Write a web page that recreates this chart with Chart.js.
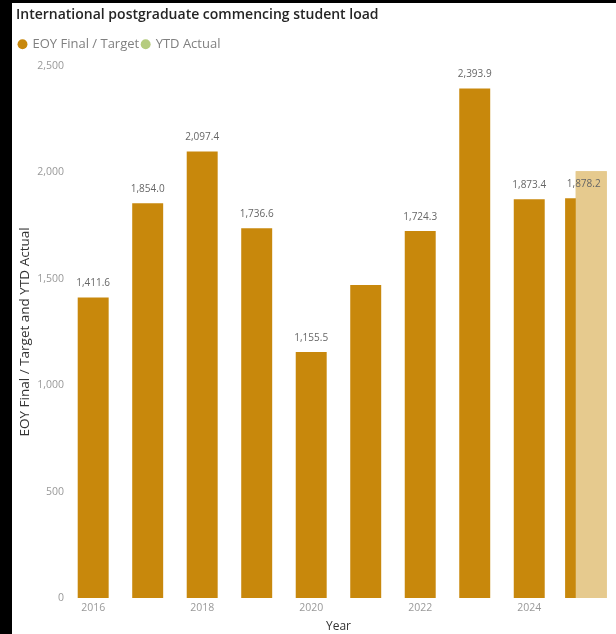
<!DOCTYPE html>
<html>
<head>
<meta charset="utf-8">
<script src="https://cdn.jsdelivr.net/npm/chart.js@4/dist/chart.umd.min.js"></script>
<style>
  html, body { margin: 0; padding: 0; background: #000; }
  body { width: 616px; height: 634px; position: relative; overflow: hidden; }
  .panel { position: absolute; left: 12px; top: 3px; width: 604px; height: 631px; background: #fff; }
</style>
</head>
<body>
<div class="panel"><canvas id="loadChart"></canvas></div>
<script>
// Chart data
const years = ['2016', '2017', '2018', '2019', '2020', '2021', '2022', '2023', '2024', '2025'];
const eoyFinalTarget = [1411.6, 1854.0, 2097.4, 1736.6, 1155.5, 1470, 1724.3, 2393.9, 1873.4, 1878.2];
const ytdActual = [null, null, null, null, null, null, null, null, null, 2005];
const unlabelledYears = ['2021'];
const yTicks = [0, 500, 1000, 1500, 2000, 2500];

const FONT = '"Open Sans", sans-serif';
const fmt = v => v.toLocaleString('en-US', { minimumFractionDigits: 1, maximumFractionDigits: 1 });

// extra space under the legend
const legendGap = {
  id: 'legendGap',
  beforeInit(chart) {
    const fit = chart.legend.fit;
    chart.legend.fit = function () {
      fit.call(this);
      this.height += 5;
    };
  }
};

// YTD bar sits over the EOY bar, then the value labels
const overlayPlugin = {
  id: 'overlay',
  afterDatasetsDraw(chart) {
    const ytdMeta = chart.getDatasetMeta(1);
    if (ytdMeta.visible) ytdMeta.controller.draw();

    const meta = chart.getDatasetMeta(0);
    if (!meta.visible) return;
    const xScale = chart.scales.x;
    const ctx = chart.ctx;
    ctx.save();
    ctx.font = '10px ' + FONT;
    ctx.fillStyle = '#666';
    ctx.textAlign = 'center';
    ctx.textBaseline = 'middle';
    meta.data.forEach((bar, i) => {
      if (unlabelledYears.includes(years[i])) return;
      ctx.fillText(fmt(eoyFinalTarget[i]), xScale.getPixelForValue(i), bar.y - 14);
    });
    ctx.restore();
  }
};

const ctx = document.getElementById('loadChart').getContext('2d');
new Chart(ctx, {
  type: 'bar',
  data: {
    labels: years,
    datasets: [
      {
        label: 'EOY Final / Target',
        data: eoyFinalTarget,
        backgroundColor: '#C8880C',
        skipNull: true,
        categoryPercentage: 0.8,
        barPercentage: 0.71,
      },
      {
        label: 'YTD Actual',
        data: ytdActual,
        backgroundColor: '#E6CA8E',
        skipNull: true,
        categoryPercentage: 0.55,
        barPercentage: 2.07,
      }
    ]
  },
  options: {
    responsive: true,
    maintainAspectRatio: false,
    animation: false,
    layout: { padding: { left: 4, right: 5, top: 2, bottom: 0 } },
    plugins: {
      title: {
        display: true,
        text: 'International postgraduate commencing student load',
        align: 'start',
        color: '#252525',
        font: { family: FONT, size: 14, weight: '600' },
        padding: { top: 2, bottom: 11 }
      },
      legend: {
        position: 'top',
        align: 'start',
        labels: {
          usePointStyle: true,
          pointStyle: 'circle',
          boxWidth: 7,
          boxHeight: 7,
          padding: 3,
          color: '#808080',
          font: { family: FONT, size: 13 },
          generateLabels: chart => {
            const items = Chart.defaults.plugins.legend.labels.generateLabels(chart);
            const dots = ['#C8880C', '#B5CC7E'];
            items.forEach((it, i) => { it.fillStyle = dots[i]; it.strokeStyle = dots[i]; });
            return items;
          }
        }
      },
      tooltip: {
        callbacks: { label: c => ` ${c.dataset.label}: ${fmt(c.raw)}` }
      }
    },
    scales: {
      x: {
        grid: { display: false, drawTicks: false },
        border: { display: false },
        ticks: {
          autoSkip: false,
          maxRotation: 0,
          color: '#999',
          font: { family: FONT, size: 10.5 },
          padding: 4,
          callback: (v, i) => (i % 2 === 0 ? years[i] : '')
        },
        title: {
          display: true,
          text: 'Year',
          color: '#333',
          font: { family: FONT, size: 12 },
          padding: { top: 1, bottom: 0 }
        }
      },
      y: {
        min: 0,
        max: 2500,
        afterBuildTicks: axis => { axis.ticks = yTicks.map(v => ({ value: v })); },
        grid: { display: false, drawTicks: false },
        border: { display: false },
        ticks: {
          color: '#999',
          font: { family: FONT, size: 10.5 },
          padding: 2,
          callback: v => v.toLocaleString('en-US')
        },
        title: {
          display: true,
          text: 'EOY Final / Target and YTD Actual',
          color: '#333',
          font: { family: FONT, size: 13.5 },
          padding: { top: 1, bottom: 2 }
        }
      }
    }
  },
  plugins: [legendGap, overlayPlugin]
});
</script>
</body>
</html>
